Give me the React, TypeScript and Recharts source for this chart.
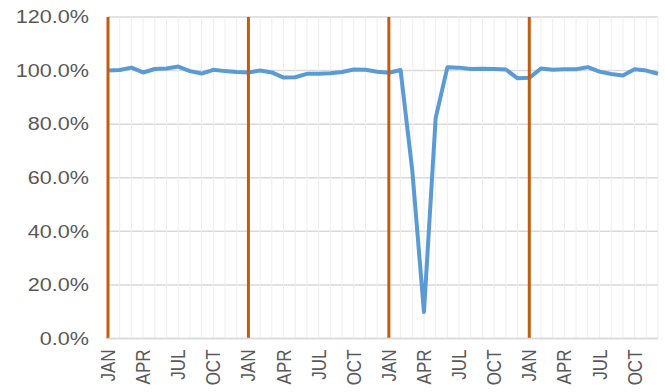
import { LineChart, Line, XAxis, YAxis, CartesianGrid, ReferenceLine } from 'recharts'

const months = ['JAN', 'FEB', 'MAR', 'APR', 'MAY', 'JUN', 'JUL', 'AUG', 'SEP', 'OCT', 'NOV', 'DEC']
const years = ['Y1', 'Y2', 'Y3', 'Y4']

// monthly ratio, percent
const year1 = [100, 100.2, 101.1, 99.3, 100.6, 100.8, 101.5, 99.8, 98.9, 100.3, 99.8, 99.5]
const year2 = [99.3, 100, 99.3, 97.4, 97.5, 98.8, 98.8, 99, 99.5, 100.4, 100.3, 99.6]
const year3 = [99.2, 100.2, 62.8, 9.9, 82.3, 101.2, 101.1, 100.6, 100.7, 100.6, 100.4, 97.1]
const year4 = [97.3, 100.8, 100.3, 100.5, 100.5, 101.3, 99.6, 98.7, 98.2, 100.5, 100, 98.8]

const yTicks = [0, 20, 40, 60, 80, 100, 120]

const series = [year1, year2, year3, year4]
const data = years.flatMap((yr, i) =>
  months.map((m, j) => ({ key: `${yr}-${m}`, value: series[i][j] }))
)
const janKeys = years.map((yr) => `${yr}-JAN`)

const FONT = "'Liberation Sans', Arial, sans-serif"
const TEXT = '#595959'

const YTick = ({ x, y, payload }: any) => (
  <g transform={`translate(${x},${y}) scale(1.2,1)`}>
    <text textAnchor="end" dy="0.35em" fill={TEXT} fontSize={18} fontFamily={FONT}>
      {`${Number(payload.value).toFixed(1)}%`}
    </text>
  </g>
)

const XTick = ({ x, y, payload }: any) => (
  <g transform={`translate(${x},${y}) scale(1.15,1) rotate(-90)`}>
    <text textAnchor="end" dy="0.36em" fill={TEXT} fontSize={17} fontFamily={FONT}>
      {String(payload.value).split('-')[1]}
    </text>
  </g>
)

export default function App() {
  return (
    <div style={{ position: 'absolute', left: 0, top: 0, width: 665, height: 392, background: '#fff' }}>
      <LineChart width={665} height={392} data={data} margin={{ top: 17, right: 7, bottom: 0, left: 0 }}>
        <CartesianGrid vertical={false} stroke="#d9d9d9" strokeWidth={1.5} />
        {data.map((d) => (
          <ReferenceLine key={d.key} x={d.key} stroke="#eeeeee" strokeWidth={1} />
        ))}
        <XAxis
          dataKey="key"
          interval={2}
          height={53.5}
          tickSize={0}
          tickMargin={11}
          tick={<XTick />}
          axisLine={{ stroke: '#d9d9d9', strokeWidth: 1.5 }}
          tickLine={false}
        />
        <YAxis
          domain={[0, 120]}
          ticks={yTicks}
          width={108}
          tickSize={0}
          tickMargin={19}
          tick={<YTick />}
          axisLine={false}
          tickLine={false}
        />
        <Line
          type="linear"
          dataKey="value"
          stroke="#5B9BD5"
          strokeWidth={4}
          strokeLinejoin="round"
          dot={false}
          isAnimationActive={false}
        />
        {janKeys.map((k) => (
          <ReferenceLine key={k} x={k} stroke="#C55A11" strokeWidth={3} />
        ))}
      </LineChart>
    </div>
  )
}
